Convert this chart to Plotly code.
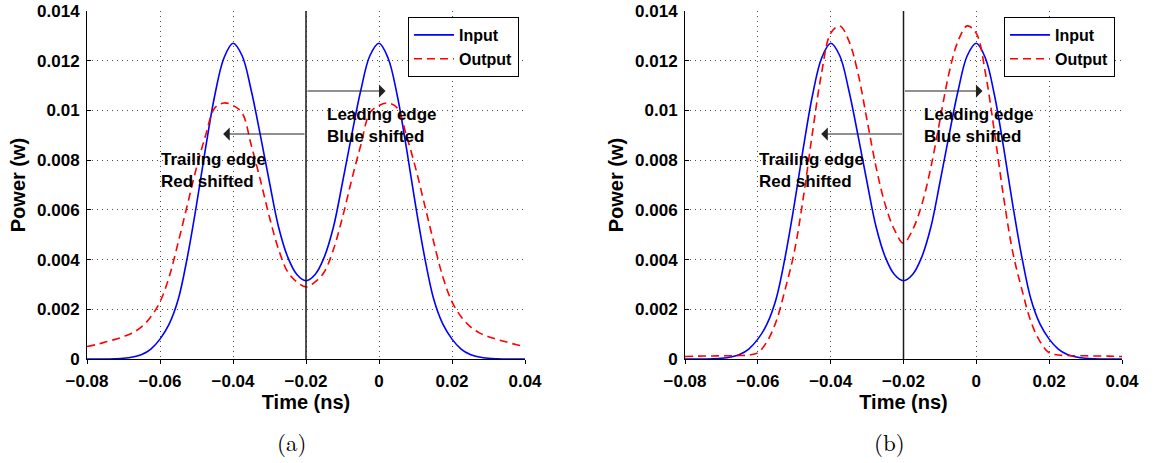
import numpy as np
import plotly.graph_objects as go

# Sample times (ns), 0.0025 ns spacing from -0.08 to 0.04
time_ns = np.linspace(-0.08, 0.04, 49)

# Input pulse pair (W), same in both panels
input_power = [
    0.0, 0.0, 0.0, 0.00001, 0.00003, 0.00008, 0.00018, 0.0004,
    0.0008, 0.0014, 0.0024, 0.0041, 0.0062, 0.0085, 0.0106, 0.0121,
    0.0127, 0.0122, 0.0108, 0.0090, 0.0071, 0.0053, 0.0041, 0.0034,
    0.00315,
    0.0034, 0.0041, 0.0053, 0.0071, 0.0090, 0.0108, 0.0122, 0.0127,
    0.0121, 0.0106, 0.0085, 0.0062, 0.0041, 0.0024, 0.0014, 0.0008,
    0.0004, 0.00018, 0.00008, 0.00003, 0.00001, 0.0, 0.0, 0.0,
]

# Output pulse pair, panel (a)
output_a = [
    0.0005, 0.00058, 0.00068, 0.00078, 0.0009, 0.00105, 0.0013, 0.0017,
    0.0023, 0.0033, 0.0047, 0.0062, 0.0077, 0.0090, 0.0101, 0.0103,
    0.0102, 0.0099, 0.0086, 0.0072, 0.0057, 0.0044, 0.0035, 0.0031,
    0.0029,
    0.0031, 0.0035, 0.0044, 0.0057, 0.0072, 0.0086, 0.0099, 0.0102,
    0.0103, 0.0101, 0.0090, 0.0077, 0.0062, 0.0047, 0.0033, 0.0023,
    0.0017, 0.0013, 0.00105, 0.0009, 0.00078, 0.00068, 0.00058, 0.0005,
]

# Output pulse pair, panel (b)
output_b = [
    0.0001, 0.00011, 0.00012, 0.00012, 0.00013, 0.00013, 0.00014, 0.00016,
    0.00025, 0.0007, 0.0015, 0.0028, 0.0043, 0.0065, 0.0091, 0.0115,
    0.0131, 0.0134, 0.0128, 0.0115, 0.0096, 0.0077, 0.0062, 0.0052,
    0.00466,
    0.0052, 0.0062, 0.0077, 0.0096, 0.0115, 0.0128, 0.0134, 0.0131,
    0.0115, 0.0091, 0.0065, 0.0043, 0.0028, 0.0015, 0.0007, 0.00025,
    0.00016, 0.00014, 0.00013, 0.00013, 0.00012, 0.00012, 0.00011, 0.0001,
]

x_ticks = [-0.08, -0.06, -0.04, -0.02, 0, 0.02, 0.04]
x_tick_labels = ["\u22120.08", "\u22120.06", "\u22120.04", "\u22120.02", "0", "0.02", "0.04"]
y_ticks = [0, 0.002, 0.004, 0.006, 0.008, 0.01, 0.012, 0.014]
y_tick_labels = ["0", "0.002", "0.004", "0.006", "0.008", "0.01", "0.012", "0.014"]

# Arrow annotations: (tip time, level)
trailing_arrow = {"a": (-0.0427, 0.00905), "b": (-0.0426, 0.00905)}
leading_arrow = {"a": (0.0018, 0.01078), "b": (0.0017, 0.01078)}
split_time = -0.02

W, H = 1154, 463
SANS = "Liberation Sans, Arial, Helvetica, sans-serif"
SERIF = "Latin Modern Roman, DejaVu Serif, Liberation Serif, serif"
BLUE = "#0000ff"
RED = "#ff0000"
BOLD17 = dict(family=SANS, size=17, color="black", weight="bold")

fig = go.Figure()

panels = [
    ("a", output_a, "x", "y", "legend", (87, 525)),
    ("b", output_b, "x2", "y2", "legend2", (685, 1122)),
]
plot_top, plot_bottom = 11, 359

for key, out_vals, xa, ya, leg, _ in panels:
    fig.add_trace(go.Scatter(
        x=time_ns, y=input_power, mode="lines", name="Input",
        line=dict(color=BLUE, width=1.6, shape="spline", smoothing=1.0),
        xaxis=xa, yaxis=ya, legend=leg,
    ))
    fig.add_trace(go.Scatter(
        x=time_ns, y=out_vals, mode="lines", name="Output",
        line=dict(color=RED, width=1.6, dash="8px,5px", shape="spline", smoothing=1.0),
        xaxis=xa, yaxis=ya, legend=leg,
    ))

axis_common = dict(
    automargin=False,
    showline=True, linecolor="black", linewidth=1,
    showgrid=True, gridcolor="rgba(0,0,0,0.7)", gridwidth=1, griddash="1px,4px",
    zeroline=False, ticklen=4, tickcolor="black",
    tickfont=BOLD17,
)

layout_axes = {}
for i, (key, out_vals, xa, ya, leg, (px0, px1)) in enumerate(panels):
    sfx = "" if i == 0 else str(i + 1)
    layout_axes["xaxis" + sfx] = dict(
        axis_common,
        domain=[px0 / W, px1 / W], anchor=ya, ticks="outside", ticklabelstandoff=3,
        range=[-0.08, 0.04], tickvals=x_ticks, ticktext=x_tick_labels,
        title=dict(text="Time (ns)", font=dict(family=SANS, size=20, color="black", weight="bold"), standoff=0),
    )
    layout_axes["yaxis" + sfx] = dict(
        axis_common,
        domain=[(H - plot_bottom) / H, (H - plot_top) / H], anchor=xa, ticks="inside",
        ticklabelstandoff=3,
        range=[0, 0.014], tickvals=y_ticks, ticktext=y_tick_labels,
        title=dict(text="Power (w)", font=dict(family=SANS, size=20, color="black", weight="bold"), standoff=6),
    )

legend_common = dict(
    yanchor="top", xanchor="right", y=(H - 17) / H,
    bordercolor="black", borderwidth=1, bgcolor="white",
    font=dict(family=SANS, size=16, color="black", weight="bold"),
    tracegroupgap=0, itemwidth=40,
)

fig.update_layout(
    width=W, height=H,
    margin=dict(l=0, r=0, t=0, b=0),
    paper_bgcolor="white", plot_bgcolor="white",
    showlegend=True,
    **layout_axes,
    legend=dict(legend_common, x=519 / W),
    legend2=dict(legend_common, x=1115 / W),
)

shapes = []
annotations = []
for i, (key, out_vals, xa, ya, leg, (px0, px1)) in enumerate(panels):
    # vertical divider between the two pulses
    shapes.append(dict(
        type="line", xref=xa, yref=ya, x0=split_time, x1=split_time, y0=0, y1=0.014,
        line=dict(color="#1a1a1a", width=1.5),
    ))
    for tx, ty in (trailing_arrow[key], leading_arrow[key]):
        annotations.append(dict(
            x=tx, y=ty, xref=xa, yref=ya, ax=split_time, ay=ty, axref=xa, ayref=ya,
            showarrow=True, arrowhead=1, arrowsize=2.0, arrowwidth=1.1, arrowcolor="#222222",
            text="",
        ))
    annotations.append(dict(
        x=-0.0602, y=0.0076, xref=xa, yref=ya, xanchor="left", yanchor="middle",
        showarrow=False, align="left",
        text="Trailing edge<br>Red shifted", font=BOLD17,
    ))
    annotations.append(dict(
        x=-0.0149, y=0.0094, xref=xa, yref=ya, xanchor="left", yanchor="middle",
        showarrow=False, align="left",
        text="Leading edge<br>Blue shifted", font=BOLD17,
    ))
    # panel caption
    annotations.append(dict(
        x=((px0 + px1) / 2 - 14) / W, y=(H - 441) / H, xref="paper", yref="paper",
        xanchor="center", yanchor="middle", showarrow=False,
        text="(" + key + ")",
        font=dict(family=SERIF, size=23, color="black"),
    ))

fig.update_layout(shapes=shapes, annotations=annotations)

fig.write_html("out.html")
